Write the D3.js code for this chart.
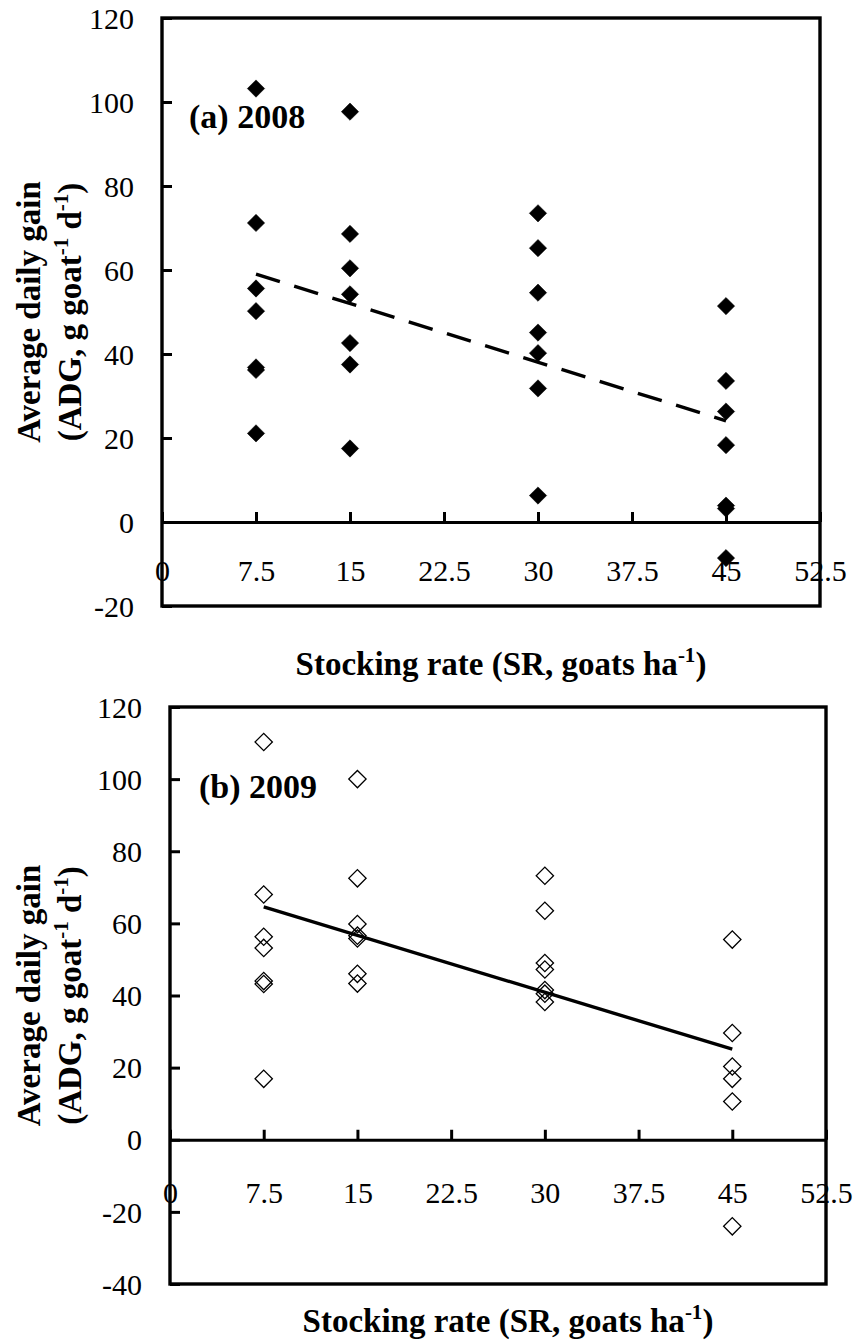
<!DOCTYPE html>
<html>
<head>
<meta charset="utf-8">
<script src="https://cdn.jsdelivr.net/npm/d3@7"></script>
<style>
  body { margin: 0; background: #fff; }
  svg { display: block; }
  svg text { font-family: "Liberation Serif", "Times New Roman", Times, serif; }
</style>
</head>
<body>
<div id="chart"></div>
<script>
// stocking rate (goats/ha) and average daily gain (g/goat/d)
const sr2008 = [7.5, 7.5, 7.5, 7.5, 7.5, 7.5, 7.5,
                15, 15, 15, 15, 15, 15, 15,
                30, 30, 30, 30, 30, 30, 30,
                45, 45, 45, 45, 45, 45, 45];
const adg2008 = [103.2, 71.2, 55.6, 50.2, 36.8, 36.2, 21.1,
                 97.7, 68.6, 60.4, 54.2, 42.6, 37.5, 17.5,
                 73.5, 65.2, 54.6, 45.1, 40.2, 31.8, 6.3,
                 51.4, 33.6, 26.3, 18.3, 3.9, 3.2, -8.6];

const sr2009 = [7.5, 7.5, 7.5, 7.5, 7.5, 7.5, 7.5,
                15, 15, 15, 15, 15, 15, 15,
                30, 30, 30, 30, 30, 30, 30,
                45, 45, 45, 45, 45, 45];
const adg2009 = [110.3, 68.0, 56.3, 53.2, 44.0, 43.2, 16.9,
                 100.0, 72.5, 59.8, 56.6, 55.8, 46.0, 43.3,
                 73.2, 63.5, 49.0, 47.2, 41.5, 40.5, 38.2,
                 55.5, 29.6, 20.3, 16.9, 10.6, -24.0];

// regression line end points
const trendX = [7.5, 45];
const trend2008 = [59.0, 24.1];
const trend2009 = [64.6, 25.1];

const xTicks = [0, 7.5, 15, 22.5, 30, 37.5, 45, 52.5];
const yTicks2008 = [-20, 0, 20, 40, 60, 80, 100, 120];
const yTicks2009 = [-40, -20, 0, 20, 40, 60, 80, 100, 120];

const W = 858, H = 1343;
const serif = '"Liberation Serif", "Times New Roman", Times, serif';
const fmt = d => String(d);

const svg = d3.select('#chart').append('svg')
    .attr('width', W)
    .attr('height', H);

function drawPanel(opts) {
    const x = d3.scaleLinear().domain([0, 52.5]).range([opts.left, opts.right]);
    const y = d3.scaleLinear().domain(opts.yDomain).range([opts.bottom, opts.top]);
    const g = svg.append('g');

    // y axis, ticks pointing inward
    const yAxis = g.append('g')
        .attr('transform', `translate(${opts.left},0)`)
        .call(d3.axisLeft(y).tickValues(opts.yTicks).tickFormat(fmt)
            .tickSizeInner(-10).tickSizeOuter(0).tickPadding(28));
    yAxis.attr('font-family', null);
    yAxis.select('.domain').remove();
    yAxis.selectAll('line').attr('stroke-width', 3);
    yAxis.selectAll('text')
        .style('font-family', serif).style('font-size', '30px').attr('fill', '#000')
        .attr('dy', '0.34em');

    // x axis along y = 0, labels hang well below it
    const xAxis = g.append('g')
        .attr('transform', `translate(0,${y(0)})`)
        .call(d3.axisBottom(x).tickValues(xTicks).tickFormat(fmt)
            .tickSizeInner(-10).tickSizeOuter(0).tickPadding(opts.xPad));
    xAxis.attr('font-family', null);
    xAxis.select('.domain').attr('stroke-width', 3.2);
    xAxis.selectAll('line').attr('stroke-width', 3);
    xAxis.selectAll('text')
        .style('font-family', serif).style('font-size', '30px').attr('fill', '#000');

    // plot frame
    g.append('rect')
        .attr('x', opts.left).attr('y', opts.top)
        .attr('width', opts.right - opts.left).attr('height', opts.bottom - opts.top)
        .attr('fill', 'none').attr('stroke', '#000').attr('stroke-width', 3.4);

    // regression line
    const line = d3.line().x(d => x(d[0])).y(d => y(d[1]));
    g.append('path')
        .datum(d3.zip(trendX, opts.trend))
        .attr('fill', 'none')
        .attr('stroke', '#000')
        .attr('stroke-width', 3.4)
        .attr('stroke-dasharray', opts.dashed ? '25,15' : null)
        .attr('d', line);

    // points
    const sym = d3.symbol().type(d3.symbolSquare).size(150);
    g.append('g').selectAll('path')
        .data(d3.zip(opts.sr, opts.adg))
        .join('path')
        .attr('transform', d => `translate(${x(d[0])},${y(d[1])}) rotate(45)`)
        .attr('d', sym)
        .attr('fill', opts.filled ? '#000' : 'none')
        .attr('stroke', '#000')
        .attr('stroke-width', opts.filled ? 0.5 : 1.3);

    // panel label
    g.append('text')
        .attr('x', opts.labelX).attr('y', opts.labelY)
        .style('font-family', serif).style('font-size', '34px').style('font-weight', 'bold')
        .text(opts.label);

    // y title (two lines)
    const cy = (opts.top + opts.bottom) / 2;
    g.append('text')
        .attr('transform', `translate(40,${cy}) rotate(-90)`)
        .attr('text-anchor', 'middle')
        .style('font-family', serif).style('font-size', '33px').style('font-weight', 'bold')
        .text('Average daily gain');
    const t2 = g.append('text')
        .attr('transform', `translate(81,${cy}) rotate(-90)`)
        .attr('text-anchor', 'middle')
        .style('font-family', serif).style('font-size', '33px').style('font-weight', 'bold');
    t2.append('tspan').text('(ADG, g goat');
    t2.append('tspan').attr('dy', -13).style('font-size', '21px').text('-1');
    t2.append('tspan').attr('dy', 13).text(' d');
    t2.append('tspan').attr('dy', -13).style('font-size', '21px').text('-1');
    t2.append('tspan').attr('dy', 13).text(')');

    // x title
    const xt = g.append('text')
        .attr('x', (opts.left + opts.right) / 2 + 10).attr('y', opts.xTitleY)
        .attr('text-anchor', 'middle')
        .style('font-family', serif).style('font-size', '33px').style('font-weight', 'bold');
    xt.append('tspan').text('Stocking rate (SR, goats ha');
    xt.append('tspan').attr('dy', -13).style('font-size', '21px').text('-1');
    xt.append('tspan').attr('dy', 13).text(')');
}

drawPanel({
    left: 162, right: 820, top: 18, bottom: 606,
    yDomain: [-20, 120], yTicks: yTicks2008,
    sr: sr2008, adg: adg2008, trend: trend2008,
    filled: true, dashed: true, xPad: 38,
    label: '(a) 2008', labelX: 189, labelY: 128,
    xTitleY: 675
});

drawPanel({
    left: 170, right: 826, top: 707, bottom: 1284,
    yDomain: [-40, 120], yTicks: yTicks2009,
    sr: sr2009, adg: adg2009, trend: trend2009,
    filled: false, dashed: false, xPad: 42,
    label: '(b) 2009', labelX: 199, labelY: 798,
    xTitleY: 1332
});
</script>
</body>
</html>
